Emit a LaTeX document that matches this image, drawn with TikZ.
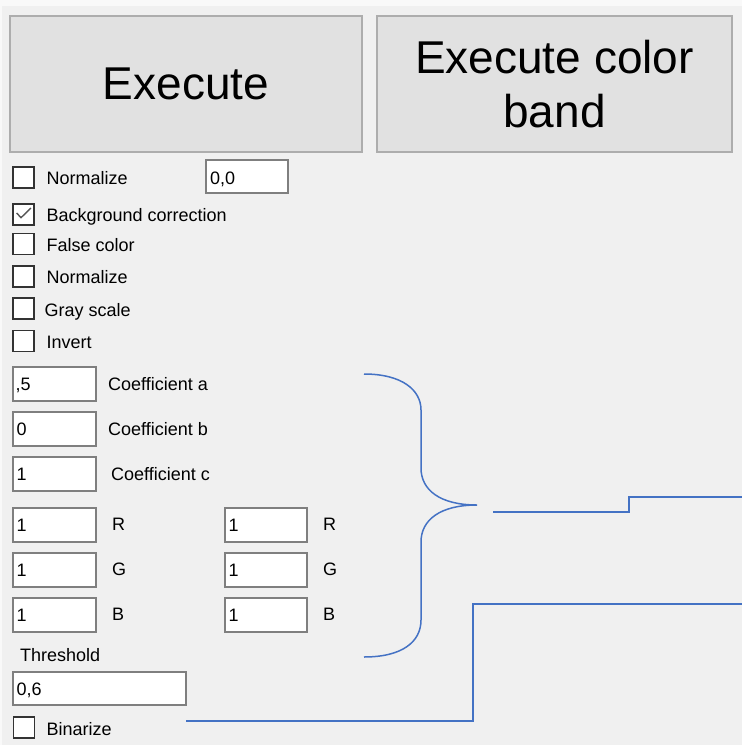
\documentclass[tikz,border=0pt]{standalone}
\usepackage{fontspec}
\setmainfont{Liberation Sans}
\definecolor{bg}{HTML}{F0F0F0}
\definecolor{btnfill}{HTML}{E1E1E1}
\definecolor{btnborder}{HTML}{ADADAD}
\definecolor{cbborder}{HTML}{333333}
\definecolor{tbborder}{HTML}{7F7F7F}
\definecolor{checkc}{HTML}{555555}
\definecolor{wireblue}{HTML}{4472C4}
\begin{document}
\begin{tikzpicture}[x=1pt,y=-1pt,
  btn/.style={draw=btnborder, fill=btnfill, line width=1.5pt, inner sep=0pt, align=center, font=\fontsize{46}{54}\selectfont},
  chk/.style={draw=cbborder, fill=white, line width=1.4pt, minimum size=21pt, inner sep=0pt},
  tbox/.style={draw=tbborder, fill=white, line width=1.4pt, inner sep=0pt, minimum height=34pt},
  lbl/.style={anchor=west, inner sep=0pt, text height=13pt, text depth=0pt, font=\fontsize{18}{20}\selectfont},
  wire/.style={draw=wireblue, line width=1.5pt}
]
\useasboundingbox (0,0) rectangle (742,745);
\fill[bg] (0,0) rectangle (742,745);
\fill[white!60!bg] (0,0) rectangle (742,6);
\fill[white!60!bg] (0,0) rectangle (2,745);

% buttons
\node[btn, minimum width=352pt, minimum height=136pt] (exec) at (186,84) {Execute};
\node[btn, minimum width=355pt, minimum height=136pt] (band) at (554.5,84) {Execute color\\band};

% checkboxes
\node[chk] (cbNorm1) at (23.5,177.5) {};
\node[lbl] (lNorm1) at (46.5,178) {Normalize};
\node[tbox, minimum width=82pt, minimum height=33pt] (tbNorm) at (247,176.5) {};
\node[lbl] (tNorm) at (210,177.5) {0,0};

\node[chk] (cbBg) at (23.5,214.5) {};
\draw[checkc, line width=1.4pt] (16.7,213) -- (21,217.7) -- (31,208);
\node[lbl] (lBg) at (46.5,214.5) {Background correction};

\node[chk] (cbFalse) at (23.5,244) {};
\node[lbl] (lFalse) at (46.5,244.5) {False color};

\node[chk] (cbNorm2) at (23.5,276.5) {};
\node[lbl] (lNorm2) at (46.5,277) {Normalize};

\node[chk] (cbGray) at (23.5,308.5) {};
\node[lbl] (lGray) at (44.5,309.5) {Gray scale};

\node[chk] (cbInv) at (23.5,341) {};
\node[lbl] (lInv) at (46.5,341.5) {Invert};

% coefficient boxes
\node[tbox, minimum width=83pt] (ca) at (54.5,384) {};
\node[lbl] (tca) at (15.5,384) {,5};
\node[lbl] (lca) at (108,383.5) {Coefficient a};

\node[tbox, minimum width=83pt] (cb) at (54.5,429) {};
\node[lbl] (tcb) at (16.5,429) {0};
\node[lbl] (lcb) at (108,429) {Coefficient b};

\node[tbox, minimum width=83pt] (cc) at (54.5,474) {};
\node[lbl] (tcc) at (16.5,474) {1};
\node[lbl] (lcc) at (111,474) {Coefficient c};

% RGB column 1
\node[tbox, minimum width=83pt] (r1) at (54.5,525) {};
\node[lbl] (tr1) at (16.5,525) {1};
\node[lbl] (lr1) at (112,524) {R};
\node[tbox, minimum width=83pt] (g1) at (54.5,570) {};
\node[lbl] (tg1) at (16.5,570) {1};
\node[lbl] (lg1) at (112,569) {G};
\node[tbox, minimum width=83pt] (b1) at (54.5,615) {};
\node[lbl] (tb1) at (16.5,615) {1};
\node[lbl] (lb1) at (112,614) {B};

% RGB column 2
\node[tbox, minimum width=82pt] (r2) at (266,525) {};
\node[lbl] (tr2) at (228.5,525) {1};
\node[lbl] (lr2) at (323,524) {R};
\node[tbox, minimum width=82pt] (g2) at (266,570) {};
\node[lbl] (tg2) at (228.5,570) {1};
\node[lbl] (lg2) at (323,569) {G};
\node[tbox, minimum width=82pt] (b2) at (266,615) {};
\node[lbl] (tb2) at (228.5,615) {1};
\node[lbl] (lb2) at (323,614) {B};

% threshold
\node[lbl] (lThr) at (20,655) {Threshold};
\node[tbox, minimum width=173pt, minimum height=33pt] (thr) at (99.5,688.5) {};
\node[lbl] (tThr) at (16.5,689) {0,6};

\node[chk] (cbBin) at (24,727.5) {};
\node[lbl] (lBin) at (46.5,728.5) {Binarize};

% brace
\coordinate (braceTop) at (364,374);
\coordinate (braceTip) at (477,505);
\coordinate (braceBot) at (364,657);
\draw[wire] (braceTop) .. controls (402,374) and (421,390) .. (421,410) -- (421,468)
  .. controls (421,490) and (440,505) .. (braceTip)
  .. controls (440,505) and (421,520) .. (421,542) -- (421,620)
  .. controls (421,642) and (402,657) .. (braceBot);

% connectors
\coordinate (w1s) at (493,512);
\coordinate (w1e) at (742,497);
\draw[wire] (w1s) -- (629,512) -- (629,497) -- (w1e);

\coordinate (w2s) at (186,721);
\coordinate (w2e) at (742,604);
\draw[wire] (w2s) -- (473,721) -- (473,604) -- (w2e);
\end{tikzpicture}
\end{document}
